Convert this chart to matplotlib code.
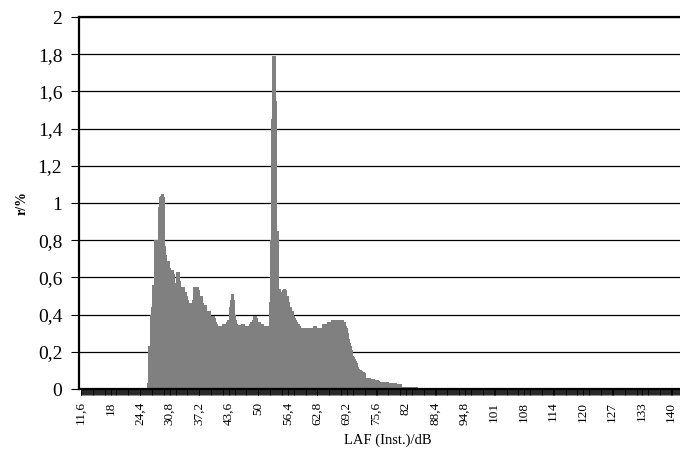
import numpy as np
import matplotlib
matplotlib.use("Agg")
import matplotlib.pyplot as plt

# ---- data ----
laf_first = 11.6          # first category (dB)
laf_step = 0.2            # category width (dB)
n_categories = 643        # 11.6 ... 140.0 dB
share_first_index = 72    # first non-empty class (26.0 dB)

# relative frequency r/% of each 0.2 dB class starting at 26.0 dB
share = [
    0.03, 0.23, 0.23, 0.40, 0.44, 0.44, 0.56, 0.56, 0.80, 0.80,
    0.80, 0.80, 0.98, 1.03, 1.04, 1.05, 1.05, 1.05, 1.04, 1.03,
    0.77, 0.72, 0.69, 0.69, 0.69, 0.65, 0.64, 0.64, 0.64, 0.62,
    0.57, 0.60, 0.63, 0.63, 0.63, 0.63, 0.58, 0.55, 0.55, 0.55,
    0.55, 0.52, 0.52, 0.51, 0.50, 0.48, 0.46, 0.46, 0.46, 0.48,
    0.55, 0.55, 0.55, 0.55, 0.55, 0.55, 0.54, 0.53, 0.50, 0.50,
    0.50, 0.46, 0.45, 0.45, 0.45, 0.42, 0.42, 0.42, 0.42, 0.41,
    0.39, 0.39, 0.39, 0.39, 0.38, 0.36, 0.35, 0.34, 0.34, 0.34,
    0.34, 0.35, 0.35, 0.35, 0.35, 0.35, 0.36, 0.37, 0.37, 0.44,
    0.48, 0.51, 0.51, 0.51, 0.48, 0.46, 0.40, 0.37, 0.35, 0.345,
    0.345, 0.345, 0.35, 0.35, 0.35, 0.35, 0.34, 0.34, 0.34, 0.34,
    0.34, 0.35, 0.36, 0.36, 0.37, 0.39, 0.39, 0.39, 0.39, 0.38,
    0.37, 0.36, 0.36, 0.36, 0.35, 0.35, 0.35, 0.34, 0.34, 0.34,
    0.34, 0.34, 0.47, 0.47, 0.80, 1.45, 1.79, 1.79, 1.79, 1.79,
    1.55, 0.85, 0.85, 0.54, 0.54, 0.52, 0.52, 0.53, 0.54, 0.54,
    0.54, 0.53, 0.50, 0.50, 0.47, 0.44, 0.44, 0.42, 0.42, 0.40,
    0.39, 0.38, 0.37, 0.36, 0.35, 0.35, 0.34, 0.33, 0.33, 0.33,
    0.33, 0.33, 0.33, 0.33, 0.33, 0.33, 0.33, 0.33, 0.33, 0.33,
    0.34, 0.34, 0.34, 0.34, 0.33, 0.33, 0.33, 0.33, 0.33, 0.33,
    0.35, 0.35, 0.35, 0.35, 0.35, 0.36, 0.36, 0.36, 0.36, 0.36,
    0.37, 0.37, 0.37, 0.37, 0.37, 0.37, 0.37, 0.37, 0.37, 0.37,
    0.37, 0.37, 0.37, 0.37, 0.36, 0.36, 0.34, 0.33, 0.30, 0.27,
    0.25, 0.23, 0.21, 0.20, 0.18, 0.17, 0.16, 0.15, 0.14, 0.12,
    0.11, 0.10, 0.10, 0.095, 0.09, 0.09, 0.09, 0.085, 0.06, 0.06,
    0.06, 0.06, 0.06, 0.055, 0.055, 0.055, 0.055, 0.05, 0.05, 0.05,
    0.05, 0.05, 0.045, 0.04, 0.04, 0.04, 0.04, 0.04, 0.035, 0.035,
    0.035, 0.035, 0.035, 0.03, 0.03, 0.03, 0.03, 0.03, 0.03, 0.03,
    0.03, 0.025, 0.025, 0.025, 0.025, 0.025, 0.025, 0.01, 0.01, 0.01,
    0.01, 0.01, 0.01, 0.01, 0.01, 0.01, 0.01, 0.01, 0.01, 0.01,
    0.01, 0.01, 0.01, 0.01, 0.005, 0.005, 0.005, 0.005, 0.005, 0.005,
    0.005, 0.005, 0.005, 0.005,
]

x_tick_labels = ['11,6', '18', '24,4', '30,8', '37,2', '43,6', '50', '56,4',
                 '62,8', '69,2', '75,6', '82', '88,4', '94,8', '101', '108',
                 '114', '120', '127', '133', '140']
y_ticks = [0, 0.2, 0.4, 0.6, 0.8, 1.0, 1.2, 1.4, 1.6, 1.8, 2.0]
y_tick_labels = ['0', '0,2', '0,4', '0,6', '0,8', '1', '1,2', '1,4', '1,6', '1,8', '2']
x_label = 'LAF (Inst.)/dB'
y_label = 'r/%'

# ---- build full series ----
values = np.zeros(n_categories)
values[share_first_index:share_first_index + len(share)] = share
idx = np.arange(n_categories)

plt.rcParams['font.family'] = ['Liberation Serif', 'DejaVu Serif']

fig = plt.figure(figsize=(6.8, 4.5), dpi=100)
ax = fig.add_axes([79 / 680, (450 - 389) / 450, 601 / 680, 372 / 450])

ax.bar(idx, values, width=1.0, color='#808080', linewidth=0, antialiased=False, zorder=2)

ax.set_xlim((79 - 81) / 0.922, (680 - 81) / 0.922)
ax.set_ylim(0, 2)

ax.set_yticks(y_ticks)
ax.set_yticklabels(y_tick_labels, fontsize=14)
ax.yaxis.grid(True, color='black', linewidth=0.9, zorder=1)
ax.set_axisbelow(True)

label_pos = np.arange(len(x_tick_labels)) * 32
ax.set_xticks(label_pos)
ax.set_xticklabels(x_tick_labels, rotation=90, fontsize=9.5)
ax.set_xticks(np.arange(n_categories + 7) - 0.5, minor=True)
ax.tick_params(axis='x', which='major', length=4, width=0.6, color='black', pad=5)
ax.tick_params(axis='x', which='minor', length=4, width=0.6, color='black')
ax.tick_params(axis='y', which='major', length=6, width=0.8, color='black', pad=6)

for side in ['left', 'bottom', 'top']:
    ax.spines[side].set_color('black')
    ax.spines[side].set_linewidth(1.6)
ax.spines['right'].set_visible(False)

fig.text(22 / 680, 1 - 203 / 450, y_label, rotation=90, ha='center', va='center',
         fontsize=10, fontweight='bold')
fig.text(388 / 680, 1 - 440 / 450, x_label, ha='center', va='center', fontsize=10.5)

fig.savefig('out.png', dpi=100)
